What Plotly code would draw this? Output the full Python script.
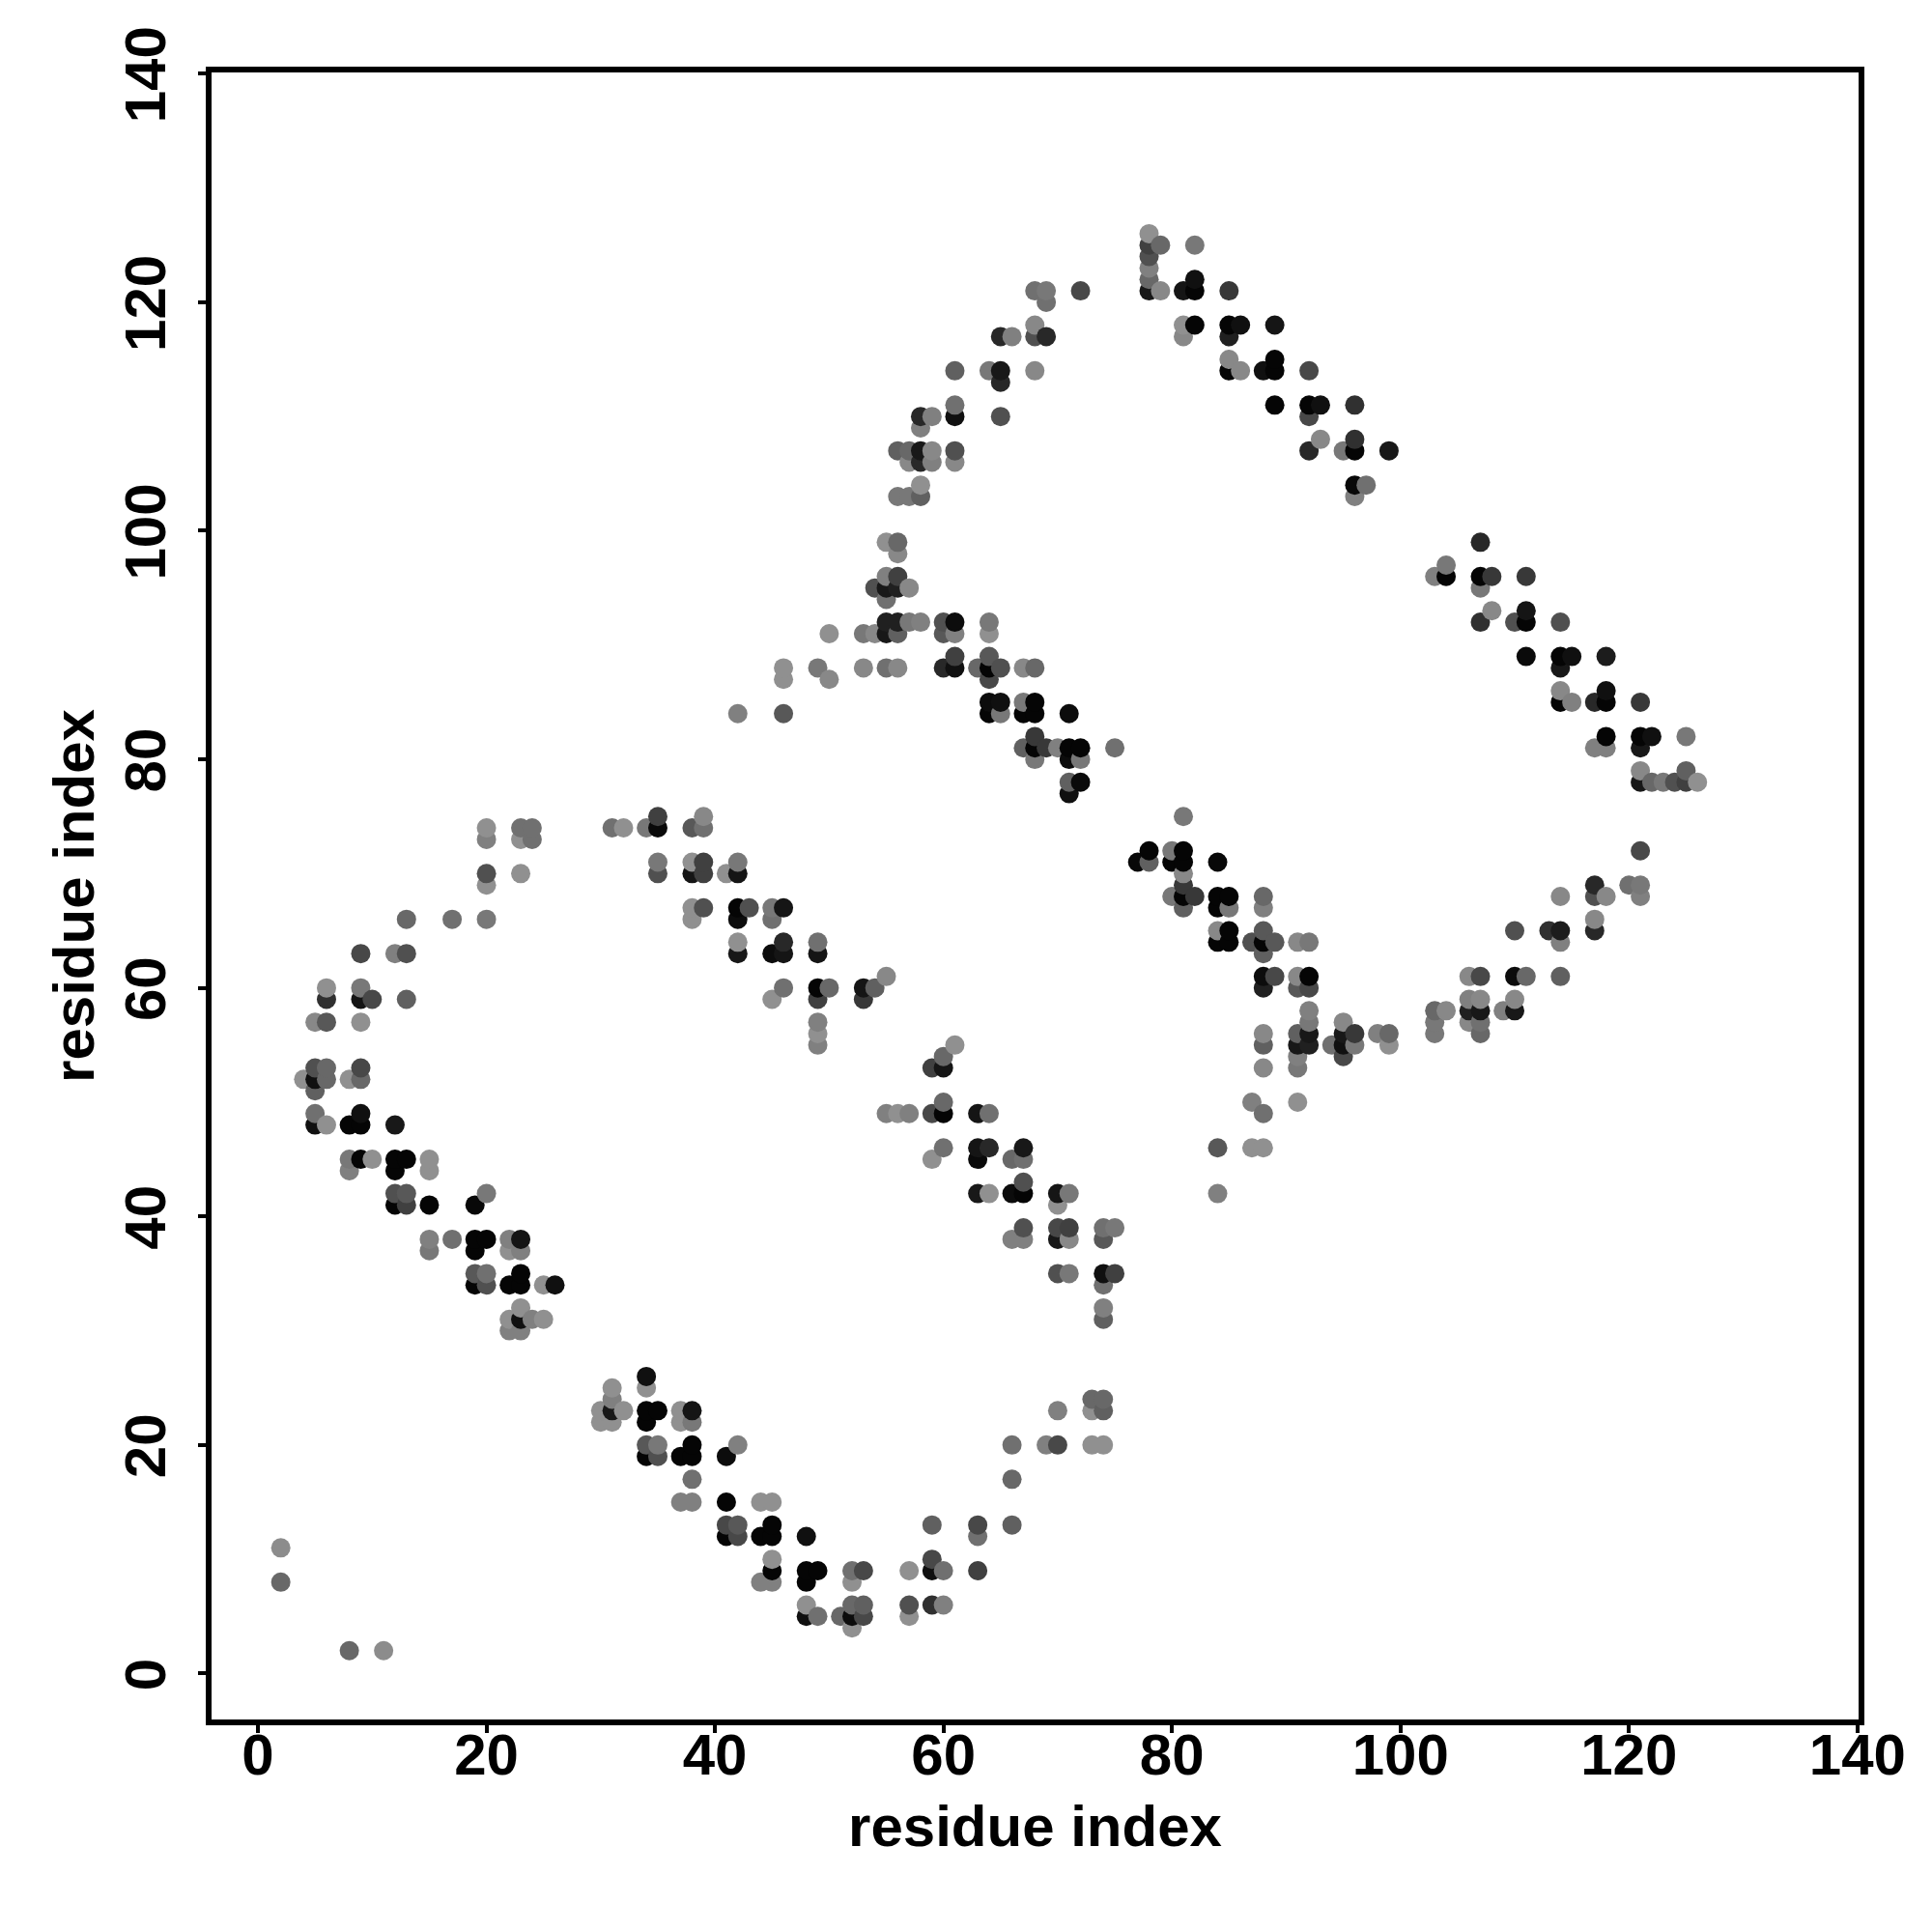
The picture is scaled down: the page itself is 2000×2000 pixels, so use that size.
import numpy as np
import plotly.graph_objects as go

# Contacts (residue i, residue j, grey level), grouped by region of the map
a_x = [2,2,8,11,30,30,31,31,31,31,32,34,34,34,34,35,37,37,38,38,34,35,34,35,37,38,38,41,42,38,37,38,41,44,45,41,42,41,42,44,45,45,45,45,44,45]
a_y = [11,8,2,2,23,22,25,24,23,22,23,26,25,23,22,23,23,22,23,22,20,20,19,19,19,20,19,19,20,17,15,15,15,15,15,13,13,12,12,12,13,12,10,9,8,8]
a_g = [0x8c,0x68,0x68,0x8c,0x90,0x90,0x90,0x80,0x18,0x90,0x90,0x10,0x90,0x05,0x05,0x05,0x90,0x90,0x15,0x78,0x58,0x78,0x05,0x50,0x05,0x05,0x05,0x0c,0x80,0x70,0x80,0x80,0x05,0x90,0x90,0x48,0x58,0x05,0x48,0x05,0x05,0x05,0x90,0x05,0x80,0x80]

b_x = [48,48,49,48,52,53,52,48,48,49,51,52,53,52,53,52,57,57,57,59,59,60,59,59,60,63,63,63,66,66,66,69,70,70,73,74,73,74,73,74]
b_y = [12,9,9,8,9,9,8,6,5,5,5,6,6,5,5,4,9,6,5,10,9,9,13,6,6,13,12,9,20,17,13,20,20,23,24,24,23,23,20,20]
b_g = [0x10,0x05,0x05,0x05,0x70,0x48,0x90,0x90,0x10,0x70,0x68,0x68,0x60,0x0c,0x48,0x90,0x90,0x50,0x90,0x48,0x10,0x70,0x60,0x30,0x80,0x48,0x70,0x40,0x70,0x68,0x60,0x80,0x48,0x80,0x68,0x68,0x90,0x60,0x90,0x90]

c_x = [20,20,23,24,23,24,20,20,23,13,17,20,9,12,13,6,6,9,9,10,13,5,6,9,5,6,4,5,6,5,8,9,9,5,5,6,8,9,9,12]
c_y = [74,73,74,74,73,73,70,69,70,66,66,66,63,63,63,60,59,60,59,59,59,57,57,57,53,53,52,52,52,51,52,53,52,49,48,48,48,49,48,48]
c_g = [0x90,0x80,0x70,0x70,0x90,0x70,0x50,0x90,0x90,0x68,0x70,0x78,0x48,0x80,0x50,0x90,0x30,0x78,0x15,0x48,0x60,0x88,0x58,0x90,0x50,0x68,0x90,0x10,0x68,0x60,0x90,0x48,0x68,0x70,0x10,0x90,0x05,0x10,0x05,0x18]

c2_x = [8,8,9,10,12,13,12,15,15,12,13,12,13,15,19,20,15,15,17,19,20,19,22,23,22,23,19,20,19,20,22,23,23,25,26,23,22,23,24,25,22,23]
c2_y = [45,44,45,45,45,45,44,45,44,42,42,41,41,41,41,42,38,37,38,38,38,37,38,38,37,37,35,35,34,34,34,35,34,34,34,32,31,31,31,31,30,30]
c2_g = [0x78,0x80,0x05,0x90,0x05,0x05,0x05,0x90,0x90,0x50,0x58,0x05,0x40,0x05,0x08,0x78,0x80,0x78,0x70,0x05,0x05,0x05,0x80,0x15,0x90,0x80,0x58,0x70,0x05,0x50,0x05,0x05,0x05,0x90,0x10,0x90,0x90,0x10,0x80,0x90,0x80,0x80]

d_x = [31,32,34,35,35,38,39,39,35,35,38,38,39,39,41,42,42,38,38,39,42,43,42,45,45,46,42,42,45,46,46,49,49,46,45,49,50,49,53,54,53,55,49,49,49]
d_y = [74,74,74,75,74,74,75,74,71,70,71,70,71,70,70,71,70,67,66,67,67,67,66,67,66,67,64,63,63,64,63,64,63,60,59,60,60,59,60,60,59,61,57,56,55]
d_g = [0x70,0x90,0x78,0x40,0x0a,0x58,0x88,0x70,0x78,0x50,0x90,0x15,0x40,0x40,0x90,0x78,0x15,0x90,0x90,0x50,0x05,0x50,0x0c,0x78,0x70,0x15,0x90,0x18,0x0c,0x28,0x15,0x70,0x15,0x70,0x90,0x05,0x68,0x40,0x15,0x60,0x38,0x88,0x80,0x90,0x80]

d2_x = [61,60,59,60,55,56,57,59,60,60,63,64,59,60,63,64,63,66,67,67,63,64,66,67,67,70,71,70,67,66,67,70,71,70,71,74,75,74,70,71,74,75,74,74,74]
d2_y = [55,54,53,53,49,49,49,49,50,49,49,49,45,46,46,46,45,45,46,45,42,42,42,43,42,42,42,41,39,38,38,39,39,38,38,39,39,38,35,35,35,35,34,32,31]
d2_g = [0x90,0x68,0x40,0x15,0x80,0x90,0x80,0x48,0x68,0x05,0x15,0x70,0x90,0x70,0x15,0x28,0x0a,0x68,0x18,0x70,0x18,0x90,0x0c,0x50,0x05,0x15,0x78,0x90,0x50,0x80,0x80,0x48,0x40,0x18,0x88,0x70,0x78,0x58,0x50,0x78,0x10,0x40,0x70,0x80,0x60]

e_x = [55,56,56,55,56,54,55,56,57,55,55,56,57,58,50,53,54,55,56,60,61,60,61,64,64,46,46,49,50,53,55,56,60,61,61,63,64,64,65,64,67,68]
e_y = [99,99,98,96,96,95,95,95,95,94,92,92,92,92,91,91,91,91,91,92,92,91,91,92,91,88,87,88,87,88,88,88,88,89,88,88,89,88,88,87,88,88]
e_g = [0x90,0x68,0x88,0x80,0x40,0x50,0x18,0x20,0x88,0x70,0x20,0x20,0x78,0x80,0x90,0x78,0x88,0x18,0x60,0x50,0x0c,0x58,0x80,0x78,0x90,0x90,0x90,0x78,0x88,0x88,0x70,0x88,0x28,0x40,0x10,0x68,0x58,0x05,0x50,0x48,0x88,0x68]

e2_x = [64,65,64,65,67,68,67,68,71,42,46,68,67,68,69,70,71,72,68,71,72,75,71,72,71]
e2_y = [85,85,84,84,85,85,84,84,84,84,84,82,81,81,81,81,81,81,80,80,80,81,78,78,77]
e2_g = [0x0c,0x10,0x05,0x78,0x78,0x05,0x05,0x05,0x0c,0x80,0x58,0x38,0x60,0x05,0x38,0x80,0x05,0x05,0x78,0x0c,0x78,0x70,0x60,0x0a,0x10]

f_x = [78,78,79,82,78,78,78,78,79,81,82,82,85,68,69,69,72,68,68,69,65,66,81,82,81,85,86,85,89,85,85,86,88,89,89,92]
f_y = [126,125,125,125,124,123,122,121,121,121,122,121,121,121,121,120,121,118,117,117,117,117,118,118,117,118,118,117,118,115,114,114,114,115,114,114]
f_g = [0x90,0x40,0x68,0x78,0x50,0x80,0x68,0x18,0x88,0x15,0x10,0x05,0x38,0x70,0x78,0x70,0x48,0x88,0x50,0x28,0x28,0x80,0x90,0x05,0x88,0x05,0x10,0x20,0x15,0x88,0x05,0x88,0x10,0x05,0x05,0x48]

f2_x = [61,64,65,65,68,89,92,93,96,92,61,58,59,61,65,58,93,96,92,95,96,99,56,57,58,59,61,57,58,59,61,58,56,57,58,96,97,96]
f2_y = [114,114,114,113,114,111,111,111,111,110,111,110,110,110,110,109,108,108,107,107,107,107,107,107,107,107,107,106,106,106,106,104,103,103,103,104,104,103]
f2_g = [0x60,0x78,0x18,0x28,0x88,0x05,0x05,0x10,0x30,0x48,0x70,0x28,0x80,0x10,0x50,0x80,0x88,0x30,0x28,0x78,0x05,0x18,0x60,0x68,0x18,0x88,0x50,0x88,0x28,0x80,0x88,0x90,0x78,0x78,0x60,0x08,0x70,0x80]

g_x = [107,104,103,104,107,108,107,111,108,107,110,111,111,114,111,114,115,114,118,114,114,115,117,118,118,121,118,117,118,121,122,121,125,121,121,122,123,124,125,125,126]
g_y = [99,97,96,96,96,96,95,96,93,92,92,93,92,92,89,89,89,88,89,86,85,85,85,86,85,85,82,81,81,82,82,81,82,79,78,78,78,78,79,78,78]
g_g = [0x28,0x78,0x80,0x05,0x05,0x38,0x78,0x38,0x88,0x30,0x50,0x15,0x05,0x50,0x0a,0x05,0x10,0x18,0x1c,0x88,0x05,0x80,0x28,0x10,0x05,0x38,0x05,0x80,0x80,0x05,0x10,0x18,0x78,0x88,0x18,0x68,0x78,0x50,0x60,0x40,0x90]

h_x = [81,77,78,78,80,80,81,81,84,81,81,80,81,82,81,84,85,84,85,88,88,84,85,84,85,88,87,88,89,88,91,92,88,89,88,91,92,91,92]
h_y = [75,71,72,71,72,71,72,71,71,70,69,68,68,68,67,68,68,67,67,68,67,65,65,64,64,65,64,64,64,63,64,64,61,61,60,61,61,60,60]
h_g = [0x78,0x08,0x05,0x60,0x78,0x05,0x05,0x05,0x08,0x88,0x38,0x78,0x05,0x38,0x60,0x05,0x05,0x05,0x78,0x68,0x80,0x88,0x05,0x05,0x05,0x58,0x50,0x05,0x58,0x60,0x88,0x78,0x0c,0x48,0x20,0x88,0x05,0x58,0x48]

h2_x = [92,92,91,92,91,92,91,91,88,88,88,95,95,96,94,95,96,95,98,99,99,87,88,91,84,87,88,84]
h2_y = [58,57,56,56,55,55,54,53,56,55,53,57,56,56,55,55,55,54,56,56,55,50,49,50,46,46,46,42]
h2_g = [0x80,0x78,0x60,0x18,0x18,0x20,0x80,0x78,0x88,0x60,0x88,0x88,0x18,0x38,0x70,0x10,0x78,0x48,0x80,0x68,0x90,0x80,0x70,0x90,0x58,0x90,0x90,0x80]

i_x = [103,104,103,103,106,107,110,111,114,106,107,106,107,106,107,107,109,110,110,110,113,114,114,114,117,117,118,117,117,120,121,121,121]
i_y = [58,58,57,56,61,61,61,61,61,59,59,58,58,57,57,56,58,59,58,65,65,65,64,68,69,68,68,66,65,69,69,68,72]
i_g = [0x68,0x88,0x78,0x78,0x88,0x48,0x0c,0x68,0x60,0x80,0x88,0x20,0x18,0x88,0x70,0x68,0x80,0x88,0x18,0x50,0x30,0x1c,0x80,0x88,0x28,0x50,0x88,0x88,0x28,0x70,0x78,0x80,0x48]

tick_values = [0, 20, 40, 60, 80, 100, 120, 140]
axis_label = "residue index"

res_i = np.array(a_x + b_x + c_x + c2_x + d_x + d2_x + e_x + e2_x + f_x + f2_x + g_x + h_x + h2_x + i_x)
res_j = np.array(a_y + b_y + c_y + c2_y + d_y + d2_y + e_y + e2_y + f_y + f2_y + g_y + h_y + h2_y + i_y)
grey = np.array(a_g + b_g + c_g + c2_g + d_g + d2_g + e_g + e2_g + f_g + f2_g + g_g + h_g + h2_g + i_g)

# drawn in order of i, then j: later points sit on top
order = np.lexsort((res_j, res_i))
colors = [f"rgb({v},{v},{v})" for v in grey[order]]

fig = go.Figure(go.Scatter(
    x=res_i[order], y=res_j[order], mode="markers",
    marker=dict(size=20, color=colors, line=dict(width=0)),
))

font = dict(family="Liberation Sans", size=60, color="black", weight="bold")
axis = dict(
    tickmode="array", tickvals=tick_values, ticktext=[str(v) for v in tick_values],
    ticks="outside", ticklen=8, tickwidth=4, tickcolor="black",
    showline=True, linewidth=6, linecolor="black", mirror=True,
    showgrid=False, zeroline=False, tickfont=font,
    title=dict(text=axis_label, font=font),
)
fig.update_layout(
    width=2000, height=2000,
    margin=dict(l=211, r=84, t=67, b=228, autoexpand=False),
    plot_bgcolor="white", paper_bgcolor="white", showlegend=False,
    xaxis=dict(axis, range=[-4.06, 140.1], ticklabelstandoff=-29),
    yaxis=dict(axis, range=[-4.02, 140.11], tickangle=-90, ticklabelstandoff=10, ticklabelshift=10),
)
fig.update_xaxes(title_standoff=22)
fig.update_yaxes(title_standoff=2)
fig.write_html("out.html")
